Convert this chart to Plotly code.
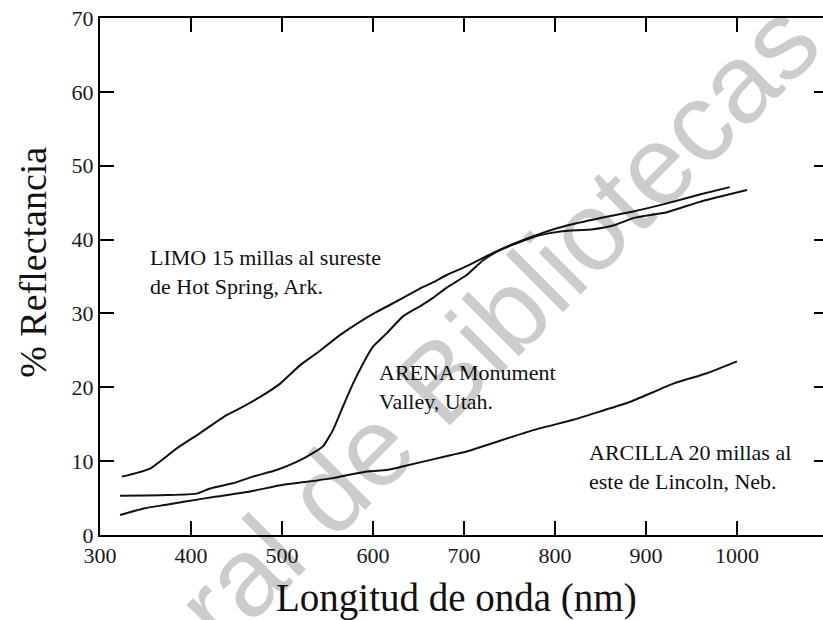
import plotly.graph_objects as go

# Reflectance spectra of three soil samples (wavelength in nm, reflectance in %)
limo_wl = [324, 355, 384, 410, 436, 450, 476, 498, 520, 538, 564, 586, 604, 630,
           652, 666, 681, 703, 732, 758, 784, 813, 849, 886, 923, 959, 992]
limo_r = [7.9, 9.0, 11.7, 13.8, 16.0, 16.9, 18.7, 20.5, 23.0, 24.6, 27.1, 28.9, 30.2, 31.9,
          33.4, 34.2, 35.2, 36.4, 38.2, 39.6, 40.8, 41.9, 42.9, 43.8, 44.9, 46.1, 47.1]

arena_wl = [322, 373, 406, 421, 446, 468, 494, 516, 534, 545, 556, 567, 578, 589, 600,
            615, 633, 652, 666, 681, 703, 721, 740, 758, 784, 806, 842, 864, 886, 923, 959, 1011]
arena_r = [5.3, 5.4, 5.6, 6.3, 7.0, 7.9, 8.8, 9.9, 11.1, 12.0, 14.2, 17.4, 20.5, 23.2, 25.5,
           27.3, 29.6, 31.0, 32.1, 33.5, 35.2, 37.2, 38.6, 39.5, 40.6, 41.1, 41.4, 41.9, 42.9, 43.7, 45.1, 46.7]

arcilla_wl = [322, 348, 373, 392, 428, 465, 501, 527, 556, 593, 615, 630, 685, 703,
              776, 820, 849, 882, 930, 967, 1000]
arcilla_r = [2.7, 3.6, 4.1, 4.5, 5.2, 5.9, 6.8, 7.2, 7.7, 8.6, 8.8, 9.2, 10.8, 11.3,
             14.2, 15.6, 16.7, 18.0, 20.5, 21.9, 23.5]

x_ticks = [300, 400, 500, 600, 700, 800, 900, 1000]
y_ticks = [0, 10, 20, 30, 40, 50, 60, 70]

SERIF = "Liberation Serif, Times New Roman, serif"
INK = "#111111"
Y_RANGE = [0, 70]

fig = go.Figure()
series = [(limo_wl, limo_r, "y"), (arena_wl, arena_r, "y"), (arcilla_wl, arcilla_r, "y2")]
for wl, r, yax in series:
    fig.add_trace(go.Scatter(x=wl, y=r, mode="lines", yaxis=yax,
                             line=dict(color=INK, width=2, shape="spline", smoothing=0.5),
                             showlegend=False, hoverinfo="skip"))

labels = [
    (353, 35.6, "LIMO 15 millas al sureste<br>de Hot Spring, Ark."),
    (604, 20.1, "ARENA Monument<br>Valley, Utah."),
    (835, 9.2, "ARCILLA 20 millas al<br>este de Lincoln, Neb."),
]
annotations = []
for x, y, t in labels:
    annotations.append(dict(x=x, y=y, xref="x", yref="y", text=t, showarrow=False,
                            xanchor="left", yanchor="middle", align="left",
                            font=dict(family=SERIF, size=22, color=INK)))

# axis titles
annotations.append(dict(x=0.493, y=-0.122, xref="paper", yref="paper",
                        text="Longitud de onda (nm)", showarrow=False,
                        xanchor="center", yanchor="middle",
                        font=dict(family=SERIF, size=39, color=INK)))
annotations.append(dict(x=-0.093, y=0.528, xref="paper", yref="paper",
                        text="% Reflectancia", showarrow=False, textangle=-90,
                        xanchor="center", yanchor="middle",
                        font=dict(family=SERIF, size=38, color=INK)))

# library watermark
annotations.append(dict(x=0.415, y=0.222, xref="paper", yref="paper",
                        text="General de Bibliotecas", showarrow=False, textangle=-45,
                        xanchor="center", yanchor="middle",
                        font=dict(family="Liberation Sans, Arial, sans-serif", size=112,
                                  color="rgba(0,0,0,0.2)")))

tick_style = dict(ticks="inside", tickcolor="black", tickwidth=2,
                  tickfont=dict(family=SERIF, size=22, color="#1a1a1a"))

fig.update_layout(
    width=823, height=620,
    margin=dict(l=100, r=0, t=18, b=85),
    paper_bgcolor="white", plot_bgcolor="white",
    xaxis=dict(range=[300, 1094.5], tickvals=x_ticks, showgrid=False, zeroline=False,
               showline=True, linecolor="black", linewidth=2, mirror="ticks",
               ticklen=14, **tick_style),
    yaxis=dict(range=Y_RANGE, tickvals=y_ticks, showgrid=False, zeroline=False,
               showline=True, linecolor="black", linewidth=2,
               ticklen=14, **tick_style),
    # right-hand tick marks only (the frame's right edge lies past the page)
    yaxis2=dict(range=Y_RANGE, tickvals=y_ticks, overlaying="y", side="right",
                showgrid=False, zeroline=False, showline=False, showticklabels=False,
                ticklen=9, ticks="inside", tickcolor="black", tickwidth=2),
    annotations=annotations,
)

fig.write_html("out.html")
